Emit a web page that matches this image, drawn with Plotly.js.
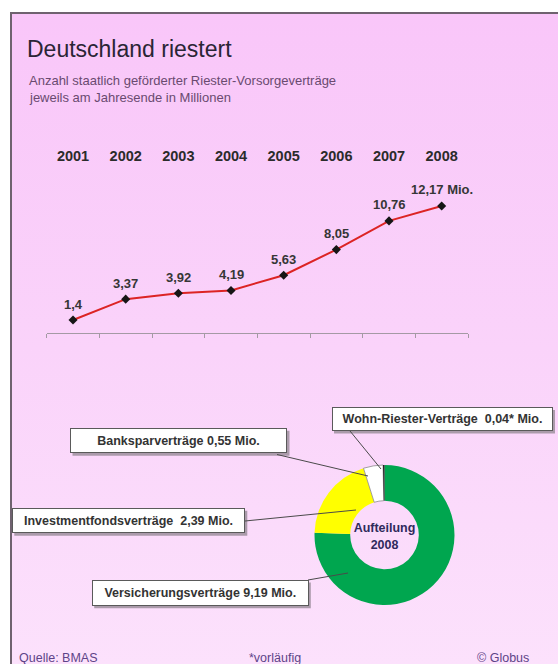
<!DOCTYPE html>
<html>
<head>
<meta charset="utf-8">
<script src="https://cdn.plot.ly/plotly-3.0.1.min.js"></script>
<style>
html,body{margin:0;padding:0;background:#ffffff;overflow:hidden;width:558px;height:664px;}
#wrap{position:relative;width:558px;height:664px;overflow:hidden;background:#ffffff;}
#frame{position:absolute;left:10px;top:12px;width:570px;height:670px;border-left:2px solid #6f626f;border-top:2px solid #6f626f;background:linear-gradient(to bottom,#f9c6f9 0%,#fad3fa 50%,#fce2fc 100%);}
#chart{position:absolute;left:0;top:0;width:558px;height:664px;}
</style>
</head>
<body>
<div id="wrap"><div id="frame"></div><div id="chart"></div></div>
<script>
// ---- data ----
const years = ['2001','2002','2003','2004','2005','2006','2007','2008'];
const contracts = [1.4, 3.37, 3.92, 4.19, 5.63, 8.05, 10.76, 12.17];
const contractLabels = ['1,4','3,37','3,92','4,19','5,63','8,05','10,76','12,17 Mio.'];

const splitNames = ['Versicherungsverträge','Investmentfondsverträge','Banksparverträge','Wohn-Riester-Verträge'];
const splitValues = [9.19, 2.39, 0.55, 0.04];
const splitTexts = ['Versicherungsverträge 9,19 Mio.','Investmentfondsverträge\u00a0 2,39 Mio.','Banksparverträge 0,55 Mio.','Wohn-Riester-Verträge\u00a0 0,04* Mio.'];
const splitColors = ['#00a64f','#ffff00','#ffffff','#1a1a1a'];

const titleText = 'Deutschland riestert';
const subtitleLines = ['Anzahl staatlich geförderter Riester-Vorsorgeverträge','jeweils am Jahresende in Millionen'];
const footerTexts = ['Quelle: BMAS','*vorläufig','© Globus'];

// ---- layout helpers (pixel -> paper) ----
const W = 558, H = 664;
const px = x => x / W;
const py = y => 1 - y / H;
const FONT = 'Liberation Sans, Arial, sans-serif';

const lineTrace = {
  type: 'scatter', mode: 'lines+markers',
  x: years, y: contracts,
  xaxis: 'x', yaxis: 'y',
  line: {color: '#dc2424', width: 2},
  marker: {color: '#161616', size: 7, symbol: 'diamond'},
  hoverinfo: 'skip', showlegend: false, cliponaxis: false
};
const yearAxisTrace = {
  type: 'scatter', mode: 'markers',
  x: years, y: contracts,
  xaxis: 'x2', yaxis: 'y',
  marker: {opacity: 0, size: 1},
  hoverinfo: 'skip', showlegend: false
};
const pieTrace = {
  type: 'pie',
  labels: splitNames, values: splitValues,
  sort: false, direction: 'clockwise', rotation: 0,
  hole: 0.49,
  marker: {colors: splitColors, line: {color: '#8a8a8a', width: [0, 0, 0.8, 0]}},
  textinfo: 'none', hoverinfo: 'skip', showlegend: false,
  domain: {x: [px(314.5), px(454.5)], y: [py(605), py(465)]},
  title: {text: 'Aufteilung<br>2008', position: 'middle center', font: {family: FONT, size: 12.5, color: '#2f2a5c', weight: 'bold'}}
};

const annotations = [];
// value labels above points (category axis: use category index)
years.forEach((yr, i) => {
  annotations.push({
    xref: 'x', yref: 'y', x: i, y: contracts[i],
    text: contractLabels[i], showarrow: false,
    xanchor: 'center', yanchor: 'middle', yshift: 16,
    font: {family: FONT, size: 13, color: '#363636', weight: 'bold'}
  });
});
// subtitle
annotations.push({xref:'paper', yref:'paper', x: px(27), y: py(80.5), xanchor:'left', yanchor:'middle', showarrow:false,
  text: subtitleLines[0], font:{family: FONT, size: 13, color:'#6a4a70'}});
annotations.push({xref:'paper', yref:'paper', x: px(27), y: py(97), xanchor:'left', yanchor:'middle', showarrow:false,
  text: subtitleLines[1], font:{family: FONT, size: 13, color:'#6a4a70'}});
// footer
const footerX = [17, 247, 475];
footerTexts.forEach((t, i) => {
  annotations.push({xref:'paper', yref:'paper', x: px(footerX[i]), y: py(658), xanchor:'left', yanchor:'middle', showarrow:false,
    text: t, font:{family: FONT, size: 12.5, color:'#5e4488'}});
});
// donut label boxes (centre x, centre y, width, height) in px
const boxes = [
  [200, 592.8, 216.6, 25.7],
  [128.3, 520.8, 233, 25],
  [178.5, 440.8, 217, 25],
  [442, 419.3, 221, 23.5]
];
const shapes = [];
boxes.forEach((b, i) => {
  // drop shadow
  shapes.push({type:'rect', xref:'paper', yref:'paper', layer:'below',
    x0: px(b[0] - b[2]/2 + 2.5), x1: px(b[0] + b[2]/2 + 2.5),
    y0: py(b[1] + b[3]/2 + 2.5), y1: py(b[1] - b[3]/2 + 2.5),
    fillcolor:'#ab9bab', line:{width:0}});
  annotations.push({xref:'paper', yref:'paper', x: px(b[0]), y: py(b[1]), xanchor:'center', yanchor:'middle', showarrow:false,
    width: b[2] - 8, height: b[3] - 8, borderpad: 3, borderwidth: 1, align: 'center',
    text: splitTexts[i], bgcolor: '#ffffff', bordercolor: '#5a5a5a',
    font:{family: FONT, size: 12.5, color:'#333333', weight:'bold'}});
});
// leader lines
const leaders = [
  [308, 580, 348, 573],
  [245, 521, 356, 510],
  [277, 454.5, 368, 476],
  [350, 431, 381, 469]
];
leaders.forEach(l => {
  shapes.push({type:'line', xref:'paper', yref:'paper', x0: px(l[0]), y0: py(l[1]), x1: px(l[2]), y1: py(l[3]),
    line:{color:'#4a4a4a', width: 1}, layer: 'above'});
});

const layout = {
  width: W, height: H,
  margin: {l:0, r:0, t:0, b:0, autoexpand: false},
  paper_bgcolor: 'rgba(0,0,0,0)', plot_bgcolor: 'rgba(0,0,0,0)',
  font: {family: FONT},
  title: {text: titleText, x: px(27), xref: 'container', xanchor: 'left', y: py(49), yref: 'container', yanchor: 'middle',
    font: {family: FONT, size: 23, color: '#2a2535'}},
  xaxis: {type: 'category', domain: [px(46.7), px(468)], range: [-0.5, 7.5], anchor: 'y',
    showline: true, linecolor: '#a49aa4', linewidth: 1, ticks: 'outside', ticklen: 4, tickcolor: '#a49aa4',
    tickson: 'boundaries', showticklabels: false, showgrid: false, zeroline: false, fixedrange: true},
  xaxis2: {type: 'category', overlaying: 'x', side: 'top', anchor: 'y', range: [-0.5, 7.5],
    showline: false, ticks: '', showgrid: false, zeroline: false,
    tickfont: {family: FONT, size: 14.5, color: '#2b2b2b', weight: 'bold'}},
  yaxis: {domain: [py(332.7), py(165)], range: [0.2, 16.04], visible: false, fixedrange: true},
  annotations: annotations,
  shapes: shapes,
  showlegend: false
};

Plotly.newPlot('chart', [pieTrace, lineTrace, yearAxisTrace], layout, {staticPlot: true, displayModeBar: false});
</script>
</body>
</html>
